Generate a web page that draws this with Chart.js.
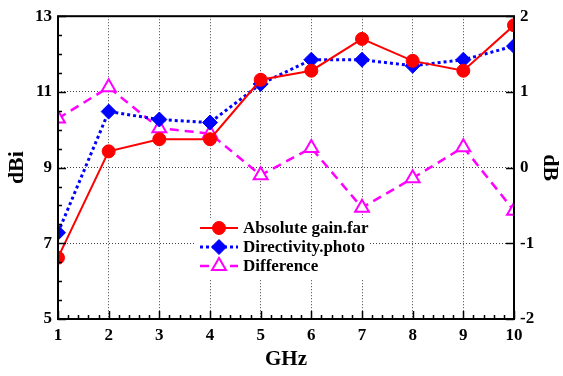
<!DOCTYPE html>
<html>
<head>
<meta charset="utf-8">
<script src="https://cdn.jsdelivr.net/npm/chart.js@4.4.1/dist/chart.umd.min.js"></script>
<style>
  body { margin: 0; background: #fff; }
  #wrap { width: 563px; height: 376px; }
</style>
</head>
<body>
<div id="wrap"><canvas id="chart"></canvas></div>
<script>
// frequency points (GHz)
const freqs = [1, 2, 3, 4, 5, 6, 7, 8, 9, 10];
// left axis, dBi
const gainFar = [6.62, 9.43, 9.75, 9.75, 11.32, 11.56, 12.4, 11.82, 11.56, 12.76];
const directivityPhoto = [7.28, 10.48, 10.27, 10.19, 11.21, 11.85, 11.85, 11.69, 11.85, 12.21];
// right axis, dB
const difference = [0.65, 1.06, 0.52, 0.45, -0.1, 0.26, -0.53, -0.14, 0.27, -0.57];
const seriesNames = ['Absolute gain.far', 'Directivity.photo', 'Difference'];

const FONT = '"Liberation Serif", "DejaVu Serif", serif';
const pts = arr => arr.map((v, i) => ({ x: freqs[i], y: v }));

// gnuplot style: inward ticks + frame
const frameTicks = {
  id: 'frameTicks',
  afterDraw(chart) {
    const { ctx, chartArea: a, scales } = chart;
    ctx.save();
    ctx.strokeStyle = '#000';
    ctx.lineWidth = 1.5;
    ctx.beginPath();
    // bottom ticks
    for (let v = 1; v <= 10.001; v += 0.2) {
      const px = Math.round(scales.x.getPixelForValue(v)) + 0.5;
      const major = Math.abs(v - Math.round(v)) < 0.01;
      ctx.moveTo(px, a.bottom);
      ctx.lineTo(px, a.bottom - (major ? 8 : 4));
    }
    // left ticks
    for (let v = 5; v <= 13.001; v += 0.5) {
      const py = Math.round(scales.y.getPixelForValue(v)) + 0.5;
      const major = Math.abs((v - 5) % 2) < 0.01;
      ctx.moveTo(a.left, py);
      ctx.lineTo(a.left + (major ? 8 : 4), py);
    }
    // right ticks
    for (let v = -2; v <= 2; v += 1) {
      const py = Math.round(scales.y2.getPixelForValue(v)) + 0.5;
      ctx.moveTo(a.right, py);
      ctx.lineTo(a.right - 8, py);
    }
    ctx.stroke();
    ctx.lineWidth = 2;
    ctx.strokeRect(a.left, a.top, a.right - a.left, a.bottom - a.top);
    ctx.restore();
  }
};

// legend inside plot
const insideLegend = {
  id: 'insideLegend',
  beforeDatasetsDraw(chart) {
    const ctx = chart.ctx;
    ctx.save();
    ctx.fillStyle = '#fff';
    ctx.fillRect(195, 218, 174, 61);
    ctx.restore();
  },
  afterDatasetsDraw(chart) {
    const ctx = chart.ctx;
    ctx.save();
    chart.data.datasets.forEach((ds, i) => {
      const y = 228 + i * 19;
      ctx.strokeStyle = ds.borderColor;
      ctx.lineWidth = ds.borderWidth;
      ctx.setLineDash(ds.borderDash || []);
      ctx.beginPath();
      ctx.moveTo(200, y);
      ctx.lineTo(238, y);
      ctx.stroke();
      ctx.setLineDash([]);
      const r = ds.pointRadius;
      ctx.fillStyle = ds.pointBackgroundColor;
      ctx.strokeStyle = ds.pointBorderColor;
      ctx.lineWidth = ds.pointBorderWidth;
      ctx.beginPath();
      if (ds.pointStyle === 'circle') {
        ctx.arc(219, y, r, 0, Math.PI * 2);
      } else if (ds.pointStyle === 'rectRot') {
        ctx.moveTo(219, y - r); ctx.lineTo(219 + r, y);
        ctx.lineTo(219, y + r); ctx.lineTo(219 - r, y);
      } else {
        ctx.moveTo(219, y - r); ctx.lineTo(219 + r * 0.87, y + r * 0.5);
        ctx.lineTo(219 - r * 0.87, y + r * 0.5);
      }
      ctx.closePath();
      ctx.fill();
      ctx.stroke();
      ctx.fillStyle = '#000';
      ctx.font = 'bold 17px ' + FONT;
      ctx.textBaseline = 'middle';
      ctx.fillText(ds.label, 243, y + 1);
    });
    ctx.restore();
  }
};

new Chart(document.getElementById('chart'), {
  type: 'line',
  data: {
    datasets: [
      {
        label: seriesNames[0], data: pts(gainFar), yAxisID: 'y',
        borderColor: '#ff0000', borderWidth: 2,
        pointStyle: 'circle', pointRadius: 6.5,
        pointBackgroundColor: '#ff0000', pointBorderColor: '#ff0000', pointBorderWidth: 1
      },
      {
        label: seriesNames[1], data: pts(directivityPhoto), yAxisID: 'y',
        borderColor: '#0000ff', borderWidth: 3, borderDash: [3, 3],
        pointStyle: 'rectRot', pointRadius: 7.5,
        pointBackgroundColor: '#0000ff', pointBorderColor: '#0000ff', pointBorderWidth: 1
      },
      {
        label: seriesNames[2], data: pts(difference), yAxisID: 'y2',
        borderColor: '#ff00ff', borderWidth: 2.5, borderDash: [9, 6],
        pointStyle: 'triangle', pointRadius: 8,
        pointBackgroundColor: '#ffffff', pointBorderColor: '#ff00ff', pointBorderWidth: 2
      }
    ]
  },
  options: {
    responsive: true,
    maintainAspectRatio: false,
    animation: false,
    layout: { padding: { top: 14, left: 0, right: 0, bottom: 0 } },
    plugins: { legend: { display: false }, tooltip: { enabled: false } },
    scales: {
      x: {
        type: 'linear', min: 1, max: 10,
        afterFit: s => { s.height = 57; },
        ticks: { stepSize: 1, color: '#000', padding: 6, font: { family: FONT, size: 17, weight: 'bold' } },
        grid: { color: '#444', lineWidth: 1, drawTicks: false },
        border: { display: false, dash: [1, 2] },
        title: { display: true, text: 'GHz', color: '#000', padding: { top: 2 }, font: { family: FONT, size: 21, weight: 'bold' } }
      },
      y: {
        position: 'left', min: 5, max: 13,
        afterFit: s => { s.width = 58; },
        ticks: { stepSize: 2, color: '#000', padding: 6, font: { family: FONT, size: 17, weight: 'bold' } },
        grid: { color: '#444', lineWidth: 1, drawTicks: false },
        border: { display: false, dash: [1, 2] },
        title: { display: true, text: 'dBi', color: '#000', padding: { top: 4 }, font: { family: FONT, size: 22, weight: 'bold' } }
      },
      y2: {
        position: 'right', min: -2, max: 2,
        afterFit: s => { s.width = 49; },
        ticks: { stepSize: 1, color: '#000', padding: 6, font: { family: FONT, size: 17, weight: 'bold' } },
        grid: { display: false, drawTicks: false },
        border: { display: false },
        title: { display: true, text: 'dB', color: '#000', padding: 0, font: { family: FONT, size: 22, weight: 'bold' } }
      }
    }
  },
  plugins: [insideLegend, frameTicks]
});
</script>
</body>
</html>
